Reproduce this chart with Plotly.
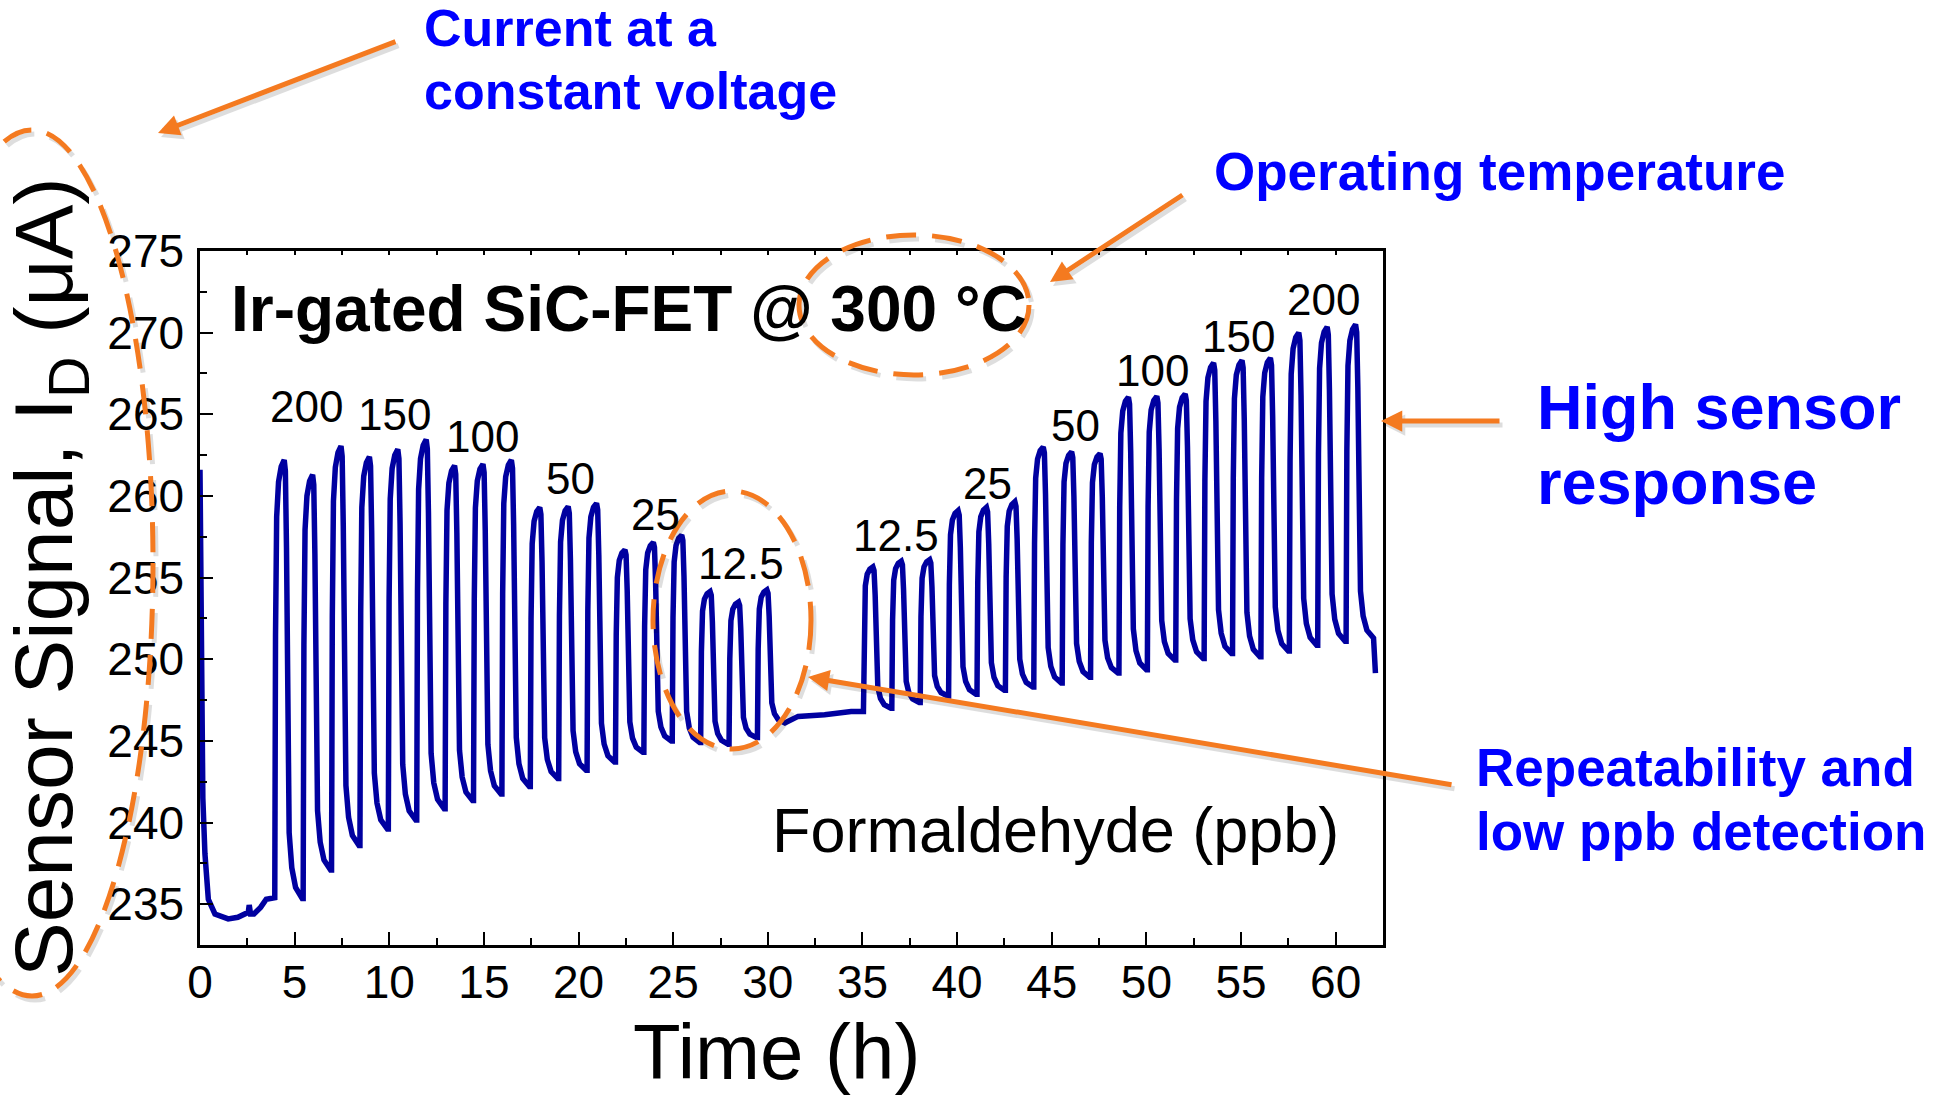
import plotly.graph_objects as go

# ---------------------------------------------------------------- data
# Gas pulse onsets (h), peak current during exposure and recovered current
# at the end of each pulse (uA), in order of exposure.
onset_h = [3.95, 5.45, 6.95, 8.45, 9.95, 11.45, 12.95, 14.45, 15.95, 17.45,
           18.95, 20.45, 21.95, 23.45, 24.95, 26.45, 27.95, 29.45,
           35.05, 36.55, 38.05, 39.55, 41.05, 42.55, 44.05, 45.55, 47.05,
           48.55, 50.05, 51.55, 53.05, 54.55, 56.05, 57.55, 59.05, 60.55]
peak_uA = [262.2, 261.3, 263.05, 262.4, 262.85, 263.45, 261.85, 261.95, 262.2,
           259.3, 259.35, 259.55, 256.7, 257.15, 257.6, 254.15, 253.5, 254.25,
           255.65, 256.0, 256.1, 259.1, 259.3, 259.65, 263.0, 262.7, 262.6,
           266.05, 266.1, 266.25, 268.15, 268.3, 268.45, 270.0, 270.35, 270.5]
recovered_uA = [235.35, 237.1, 238.6, 239.6, 240.15, 240.85, 241.35, 241.75,
                242.2, 242.7, 243.2, 243.7, 244.3, 245.0, 244.9, 244.8, 245.2,
                246.1,
                247.0, 247.35, 247.75, 247.85, 248.1, 248.3, 248.55, 248.9,
                249.15, 249.35, 249.95, 250.05, 250.35, 250.15, 250.5, 250.85,
                251.1, 251.3]

# Warm-up drift before the first exposure
warmup_h = [0.0, 0.03, 0.08, 0.15, 0.26, 0.44, 0.79, 1.49, 2.0, 2.4, 2.55,
            2.6, 2.67, 2.85, 3.2, 3.5, 3.95]
warmup_uA = [261.6, 255.0, 246.3, 241.5, 238.1, 235.3, 234.4, 234.1, 234.2,
             234.45, 234.5, 234.95, 234.4, 234.4, 234.8, 235.3, 235.4]

# Pause in synthetic air between the two concentration series
pause_h = [31.6, 33.0, 34.4]
pause_uA = [246.5, 246.6, 246.8]

# End of the record
end_h = [62.1]
end_uA = [249.15]

# Step response of one exposure: time after onset (h) and fraction of the step
rise_dt = [0.0, 0.04, 0.10, 0.20, 0.34, 0.50]
rise_frac = [0.0, 0.60, 0.87, 0.95, 0.985, 1.0]
fall_dt = [0.56, 0.62, 0.68, 0.76, 0.90, 1.10, 1.45]
fall_frac = [0.975, 0.80, 0.30, 0.15, 0.07, 0.025, 0.0]

# Concentration annotations (ppb)
conc_labels = ["200", "150", "100", "50", "25", "12.5",
               "12.5", "25", "50", "100", "150", "200"]
conc_x_h = [5.60, 10.25, 14.95, 19.60, 24.04, 28.58,
            36.77, 41.58, 46.28, 50.30, 54.84, 59.38]
conc_y_uA = [265.47, 264.99, 263.63, 261.04, 258.89, 255.89,
             257.55, 260.79, 264.34, 267.71, 269.79, 272.03]

y_ticks = [235, 240, 245, 250, 255, 260, 265, 270, 275]
x_ticks = [0, 5, 10, 15, 20, 25, 30, 35, 40, 45, 50, 55, 60]

# ---------------------------------------------------------------- trace
t = list(warmup_h)
v = list(warmup_uA)
for i, (t0, pk, rec) in enumerate(zip(onset_h, peak_uA, recovered_uA)):
    if i == 18:
        t += pause_h
        v += pause_uA
    base = v[-1]
    for dt, f in zip(rise_dt, rise_frac):
        t.append(t0 + dt)
        v.append(base + f * (pk - base))
    for dt, f in zip(fall_dt, fall_frac):
        t.append(t0 + dt)
        v.append(rec + f * (pk - rec))
t += end_h
v += end_uA

# ---------------------------------------------------------------- layout helpers
W, H = 1940, 1098
ML, MR, MT, MB = 200, 557, 251, 153
PW, PH = W - ML - MR, H - MT - MB


def px(x):
    return (x - ML) / PW


def py(y):
    return (H - MB - y) / PH


ORANGE = "#F47A20"
SHADOW = "rgba(0,0,0,0.13)"
BLUE = "#0000FF"
FONT = "Liberation Sans, Arial, sans-serif"

fig = go.Figure()
fig.add_trace(go.Scatter(x=t, y=v, mode="lines",
                         line=dict(color="#0000A0", width=5.5),
                         showlegend=False, hoverinfo="skip"))
# carrier for the top tick row
fig.add_trace(go.Scatter(x=[None], y=[None], xaxis="x2", showlegend=False))

ann = []
for lab, xh, yv in zip(conc_labels, conc_x_h, conc_y_uA):
    ann.append(dict(x=xh, y=yv, xref="x", yref="y", text=lab, showarrow=False,
                    xanchor="center", yanchor="middle",
                    font=dict(family=FONT, size=44, color="black")))


def ptext(text, x, y, size, color, bold=False, xanchor="left", angle=0):
    return dict(x=px(x), y=py(y), xref="paper", yref="paper",
                text=f"<b>{text}</b>" if bold else text, showarrow=False,
                xanchor=xanchor, yanchor="middle", textangle=angle,
                font=dict(family=FONT, size=size, color=color))


ann += [
    ptext("Ir-gated SiC-FET @ 300 °C", 229, 309, 64, "black", bold=True),
    ptext("Formaldehyde (ppb)", 1055, 830, 63, "black", xanchor="center"),
    ptext("Time (h)", 776, 1052, 78, "black", xanchor="center"),
    ptext("Sensor Signal, I<sub>D</sub> (μA)", 49, 577, 82, "black",
          xanchor="center", angle=-90),
    ptext("Current at a", 422, 28, 52, BLUE, bold=True),
    ptext("constant voltage", 422, 91, 52, BLUE, bold=True),
    ptext("Operating temperature", 1212, 171, 53, BLUE, bold=True),
    ptext("High sensor", 1535, 407, 63, BLUE, bold=True),
    ptext("response", 1535, 482, 63, BLUE, bold=True),
    ptext("Repeatability and", 1474, 767, 53, BLUE, bold=True),
    ptext("low ppb detection", 1474, 831, 53, BLUE, bold=True),
]

# orange call-out arrows: (tip x, tip y, tail x, tail y) in pixels
arrows = [(158, 133, 397, 41), (1050, 282, 1184, 194),
          (1381, 421, 1501, 421), (808, 677, 1453, 785)]
for dx, dy, col in [(3, 4, SHADOW), (0, 0, ORANGE)]:
    for hx, hy, tx, ty in arrows:
        ann.append(dict(x=px(hx + dx), y=py(hy + dy), xref="paper",
                        yref="paper", text="", showarrow=True, arrowhead=2,
                        arrowsize=0.85, arrowwidth=5, arrowcolor=col,
                        ax=tx - hx, ay=ty - hy, axref="pixel", ayref="pixel"))

# dashed call-out ellipses: (x0, y0, x1, y1) in pixels
ellipses = [(-89, 130, 153, 996), (799, 235, 1029, 375), (653, 491, 811, 749)]
shapes = []
for dx, dy, col in [(3, 4, SHADOW), (0, 0, ORANGE)]:
    for x0, y0, x1, y1 in ellipses:
        shapes.append(dict(type="circle", xref="paper", yref="paper",
                           x0=px(x0 + dx), x1=px(x1 + dx),
                           y0=py(y1 + dy), y1=py(y0 + dy),
                           line=dict(color=col, width=5, dash="30px,16px"),
                           layer="above"))

axis_common = dict(showline=True, linecolor="black", linewidth=2.5,
                   mirror=True, ticks="inside", ticklen=13, tickwidth=2,
                   tickcolor="black", showgrid=False, zeroline=False,
                   tickfont=dict(family=FONT, size=46, color="black"))

fig.update_layout(
    width=W, height=H,
    margin=dict(l=ML, r=MR, t=MT, b=MB, pad=0),
    paper_bgcolor="white", plot_bgcolor="white",
    xaxis=dict(range=[0, 62.5], tickvals=x_ticks,
               ticktext=[str(x) for x in x_ticks],
               minor=dict(ticks="inside", ticklen=7, tickwidth=2,
                          tickcolor="black", dtick=2.5, tick0=0),
               ticklabelstandoff=-5, **axis_common),
    xaxis2=dict(range=[0, 62.5], overlaying="x", side="top", anchor="y",
                ticks="inside", ticklen=4, tickwidth=1.5, tickcolor="black",
                dtick=2.5, tick0=0, showticklabels=False, showline=False,
                showgrid=False, zeroline=False),
    yaxis=dict(range=[232.5, 275], tickvals=y_ticks,
               ticktext=[str(y) for y in y_ticks],
               minor=dict(ticks="inside", ticklen=7, tickwidth=2,
                          tickcolor="black", dtick=2.5, tick0=0),
               ticklabelstandoff=4, **axis_common),
    annotations=ann,
    shapes=shapes,
    showlegend=False,
)

fig.write_html("out.html")
